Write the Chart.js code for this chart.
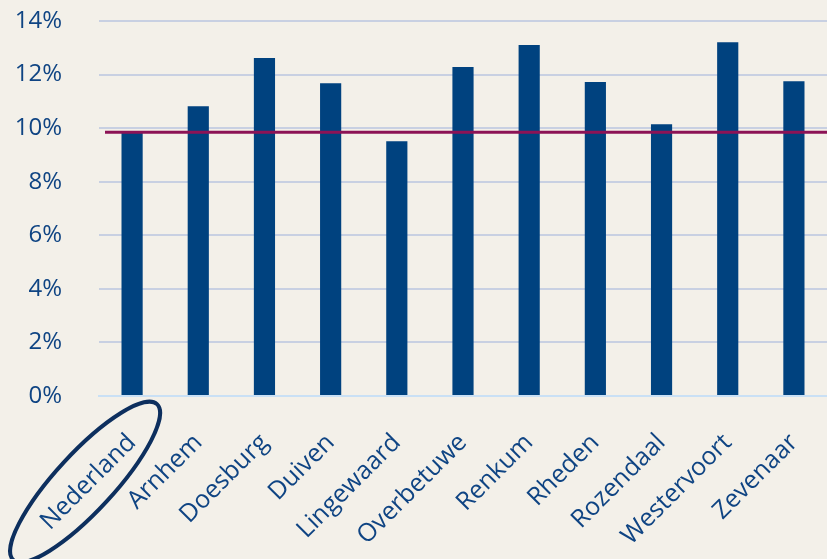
<!DOCTYPE html>
<html><head><meta charset="utf-8">
<script src="https://cdn.jsdelivr.net/npm/chart.js@4"></script>
<style>html,body{margin:0;padding:0;background:#f3f0e9;}#wrap{width:827px;height:559px;}</style>
</head><body><div id="wrap"><canvas id="c" width="827" height="559"></canvas></div>
<script>
const categories = ["Nederland","Arnhem","Doesburg","Duiven","Lingewaard","Overbetuwe","Renkum","Rheden","Rozendaal","Westervoort","Zevenaar"];
const values = [9.85,10.82,12.62,11.68,9.51,12.28,13.10,11.72,10.15,13.21,11.75];
const referenceValue = 9.85;
const yTicks = [0,2,4,6,8,10,12,14];

const textColor = '#0f4483';
const fontFamily = '"Open Sans", Lato, sans-serif';

const bgPlugin = {
  id:'bg',
  beforeDraw(chart){const c=chart.ctx;c.save();c.fillStyle='#f3f0e9';c.fillRect(0,0,chart.width,chart.height);c.restore();}
};
const refLine = {
  id:'refLine',
  afterDatasetsDraw(chart){
    const c=chart.ctx, y=chart.scales.y.getPixelForValue(referenceValue), a=chart.chartArea;
    c.save();c.strokeStyle='#8c1356';c.lineWidth=3;c.beginPath();c.moveTo(a.left+6,y);c.lineTo(a.right,y);c.stroke();c.restore();
  }
};
const ellipse = {
  id:'ellipse',
  afterDraw(chart){
    const c=chart.ctx, x=chart.scales.x.getPixelForValue(0), y0=chart.scales.y.getPixelForValue(0);
    c.save();c.strokeStyle='#0d2f5e';c.lineWidth=4;c.beginPath();
    c.ellipse(x-47,y0+86,106,29,-Math.PI/4-0.04,0,Math.PI*2);c.stroke();c.restore();
  }
};

new Chart(document.getElementById('c'),{
  type:'bar',
  data:{labels:categories,datasets:[{data:values,backgroundColor:'#00427f',borderWidth:0,categoryPercentage:1,barPercentage:0.32}]},
  plugins:[bgPlugin,refLine,ellipse],
  options:{
    responsive:false,animation:false,
    layout:{padding:{top:21,right:0,left:0,bottom:0}},
    plugins:{legend:{display:false},tooltip:{enabled:false}},
    scales:{
      x:{
        grid:{display:false,drawTicks:false},
        border:{display:true,color:'#c9e0f5',width:2},
        ticks:{color:textColor,font:{family:fontFamily,size:25},maxRotation:45,minRotation:45,padding:32,autoSkip:false},
        afterFit(s){s.height=163;s.paddingLeft=0;s.paddingRight=0;}
      },
      y:{
        min:0,max:14,
        afterBuildTicks(s){s.ticks=yTicks.map(v=>({value:v}));},
        grid:{color:'#c8d0e2',lineWidth:2,drawTicks:false},
        border:{display:false},
        ticks:{color:textColor,font:{family:fontFamily,size:24},padding:37,callback:v=>v+'%'},
        afterFit(s){s.width=99;s.paddingTop=0;s.paddingBottom=0;}
      }
    }
  }
});
</script></body></html>
